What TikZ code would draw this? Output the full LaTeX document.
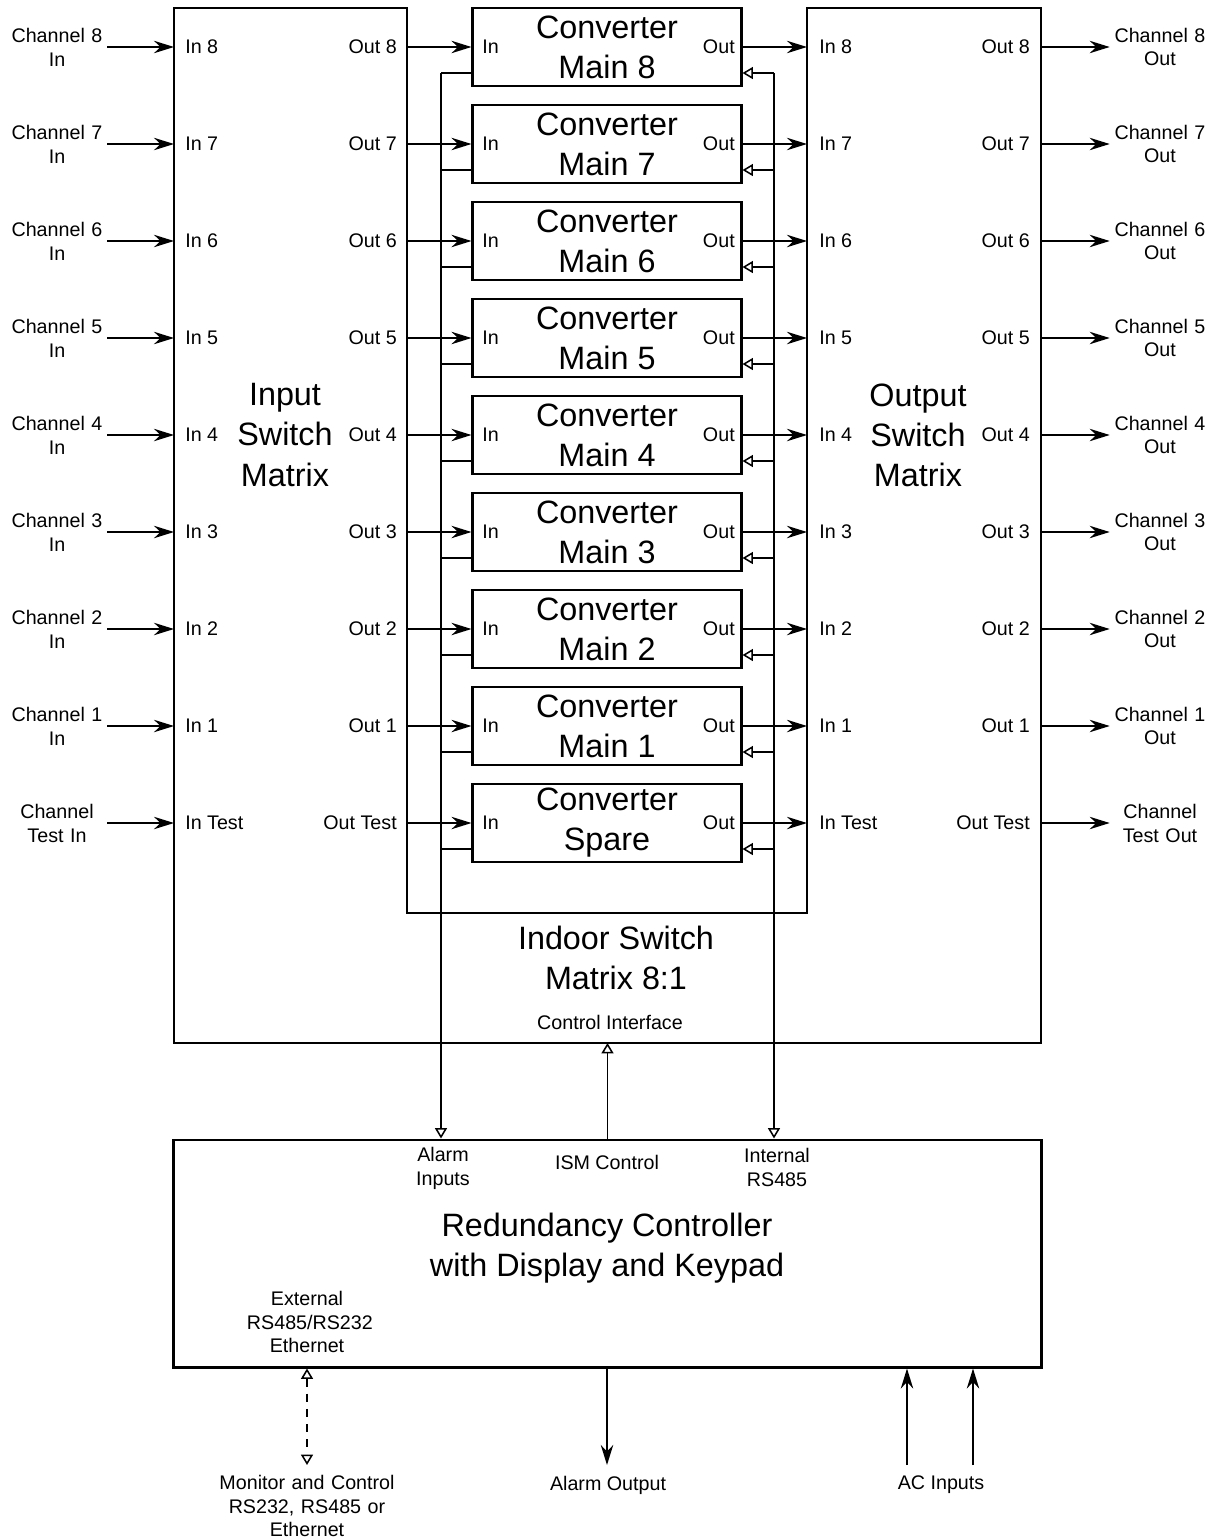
\documentclass[tikz,border=0pt]{standalone}
\usepackage{fontspec}
\setmainfont{Liberation Sans}
\usepackage{tikz}
\usetikzlibrary{arrows.meta, calc}

\newcommand{\bigtxt}{\fontsize{23}{28.5}\selectfont}
\newcommand{\smalltxt}{\fontsize{14}{17}\selectfont}

\begin{document}
\begin{tikzpicture}[x=0.025cm, y=-0.025cm,
  thickbox/.style={draw, line width=2.1pt},
  conv/.style={thickbox, minimum width=6.7cm, minimum height=1.95cm, inner sep=0pt, align=center, font=\bigtxt},
  port/.style={font=\smalltxt, inner sep=0pt},
  chan/.style={font=\smalltxt, align=center, text width=2.5cm, inner sep=0pt},
  title/.style={font=\bigtxt, align=center, inner sep=0pt},
  wire/.style={line width=1.1pt},
  sig/.style={wire, -{Stealth[length=0.5cm, width=0.31cm]}},
  fb/.style={wire, -{Triangle[open, length=0.26cm, width=0.3cm]}}]
  \useasboundingbox (0,0) rectangle (1216,1540);

  % Indoor switch matrix outline
  \draw[line width=2.1pt] (174,8) -- (407,8) -- (407,913) -- (807,913) -- (807,8)
    -- (1041,8) -- (1041,1043) -- (174,1043) -- cycle;
  \node[title] (ismtitle) at (285,435) {Input\\Switch\\Matrix};
  \node[title] (osmtitle) at (918,435) {Output\\Switch\\Matrix};
  \node[title] (indoor) at (616,958) {Indoor Switch\\Matrix 8:1};
  \node[port] (ctrlif) at (610,1022) {Control Interface};

  % Redundancy controller
  \node[thickbox, minimum width=21.675cm, minimum height=5.675cm] (rc) at (607.5,1253.5) {};
  \node[title] (rctitle) at (607,1248) {Redundancy Controller\\with Display and Keypad};
  \node[chan] (alarmin) at (443,1168) {Alarm\\Inputs};
  \node[port] (ismctrl) at (607,1162) {ISM Control};
  \node[chan] (intrs) at (777,1167) {Internal\\RS485};
  \node[chan, text width=3cm] (extrs) at (307,1322) {External\\RS485/RS232\\Ethernet};

  % Alarm and RS485 buses
  \coordinate (alarmbus) at (441,73);
  \coordinate (rsbus) at (774,73);
  \draw[fb] (alarmbus) -- (alarmbus |- rc.north);
  \draw[fb] (rsbus) -- (rsbus |- rc.north);
  \draw[fb] (rc.north) -- (rc.north |- 0,1043);

  % Channels 8..1
  \foreach \k [evaluate=\k as \yy using 47+97*(8-\k)] in {8,...,1} {
    \node[conv] (conv\k) at (607,\yy) {Converter\\Main \k};
    \node[chan] (chin\k) at (57,\yy) {Channel \k\\In};
    \node[port, anchor=west] (ismin\k) at (185,\yy) {In \k};
    \node[port, anchor=east] (ismout\k) at (397,\yy) {Out \k};
    \node[port, anchor=west] (cin\k) at (482,\yy) {In};
    \node[port, anchor=east] (cout\k) at (735,\yy) {Out};
    \node[port, anchor=west] (osmin\k) at (819,\yy) {In \k};
    \node[port, anchor=east] (osmout\k) at (1030,\yy) {Out \k};
    \node[chan] (chout\k) at (1160,\yy) {Channel \k\\Out};
    \coordinate (ismL\k) at (174,\yy);
    \coordinate (ismR\k) at (407,\yy);
    \coordinate (osmL\k) at (807,\yy);
    \coordinate (osmR\k) at (1041,\yy);
    \coordinate (fbl\k) at ([yshift=-0.65cm]conv\k.west);
    \coordinate (fbr\k) at ([yshift=-0.65cm]conv\k.east);
    \draw[sig] (chin\k.east) -- (ismL\k);
    \draw[sig] (ismR\k) -- (conv\k.west);
    \draw[sig] (conv\k.east) -- (osmL\k);
    \draw[sig] (osmR\k) -- (chout\k.west);
    \draw[wire] (fbl\k) -- (fbl\k -| alarmbus);
    \draw[fb] (fbr\k -| rsbus) -- (fbr\k);
  }

  % Test channel
  \node[conv] (convT) at (607,823) {Converter\\Spare};
  \node[chan] (chinT) at (57,823) {Channel\\Test In};
  \node[port, anchor=west] (isminT) at (185,823) {In Test};
  \node[port, anchor=east] (ismoutT) at (397,823) {Out Test};
  \node[port, anchor=west] (cinT) at (482,823) {In};
  \node[port, anchor=east] (coutT) at (735,823) {Out};
  \node[port, anchor=west] (osminT) at (819,823) {In Test};
  \node[port, anchor=east] (osmoutT) at (1030,823) {Out Test};
  \node[chan] (choutT) at (1160,823) {Channel\\Test Out};
  \coordinate (ismLT) at (174,823);
  \coordinate (ismRT) at (407,823);
  \coordinate (osmLT) at (807,823);
  \coordinate (osmRT) at (1041,823);
  \coordinate (fblT) at ([yshift=-0.65cm]convT.west);
  \coordinate (fbrT) at ([yshift=-0.65cm]convT.east);
  \draw[sig] (chinT.east) -- (ismLT);
  \draw[sig] (ismRT) -- (convT.west);
  \draw[sig] (convT.east) -- (osmLT);
  \draw[sig] (osmRT) -- (choutT.west);
  \draw[wire] (fblT) -- (fblT -| alarmbus);
  \draw[fb] (fbrT -| rsbus) -- (fbrT);

  % External connections
  \coordinate (monport) at (307,1465);
  \coordinate (aloutpt) at (607,1465);
  \coordinate (ac1) at (907,1465);
  \coordinate (ac2) at (973,1465);
  \node[chan, text width=4.5cm] (monitor) at (307,1506) {Monitor and Control\\RS232, RS485 or\\Ethernet};
  \node[port] (alarmout) at (608,1485) {Alarm Output};
  \node[port] (acin) at (941,1485) {AC Inputs};
  \draw[wire, dash pattern=on 0.2cm off 0.18cm, {Triangle[open, length=0.26cm, width=0.3cm]}-{Triangle[open, length=0.26cm, width=0.3cm]}]
    (monport |- rc.south) -- (monport);
  \draw[sig] (rc.south -| aloutpt) -- (aloutpt);
  \draw[sig] (ac1) -- (ac1 |- rc.south);
  \draw[sig] (ac2) -- (ac2 |- rc.south);
\end{tikzpicture}
\end{document}
